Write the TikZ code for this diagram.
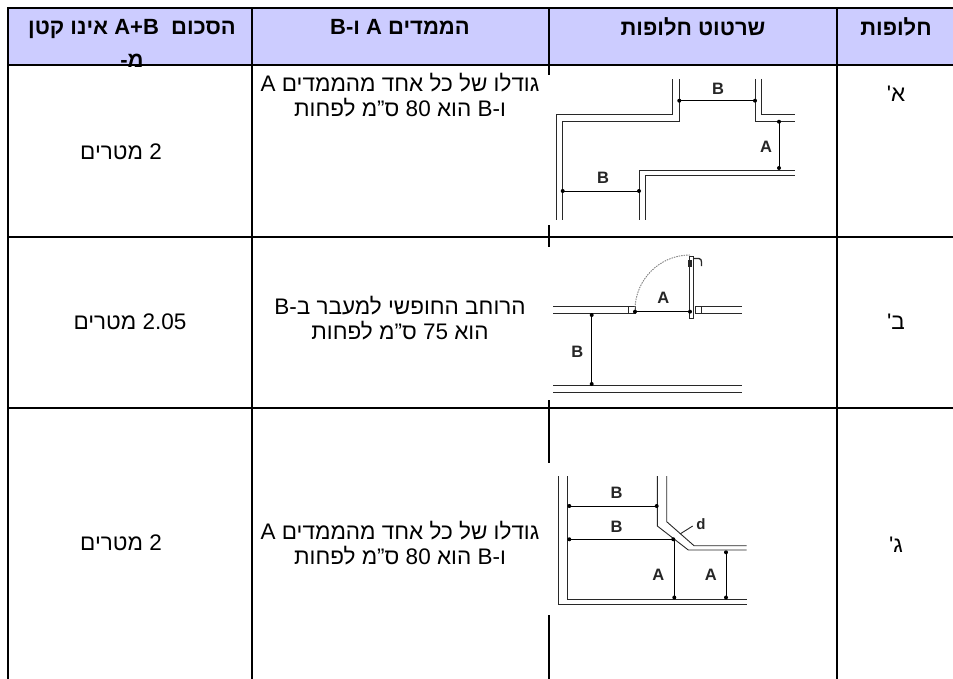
\documentclass[tikz,border=0pt]{standalone}
\usepackage{fontspec}
\setmainfont{Liberation Sans}
\newfontfamily\heb[Script=Hebrew]{Liberation Sans}
\TeXXeTstate=1
\definecolor{headfill}{RGB}{204,204,255}
\definecolor{wallgray}{RGB}{40,40,40}

\begin{document}
\begin{tikzpicture}[x=1pt, y=-1pt,
    gridline/.style={line width=2.6pt},
    wall/.style={line width=0.9pt, wallgray},
    dim/.style={line width=0.9pt},
    dimend/.style={circle, fill, inner sep=0pt, minimum size=4pt},
    lbl/.style={font=\bfseries\fontsize{16.5}{16.5}\selectfont, inner sep=0pt, text=black!85},
    cell/.style={font=\heb\fontsize{22.5}{25}\selectfont, align=center, inner sep=0pt},
    head/.style={font=\heb\bfseries\fontsize{22}{33}\selectfont, align=center, inner sep=0pt}]
\useasboundingbox (0,0) rectangle (953,679);
\fill[white] (0,0) rectangle (953,679);
\fill[headfill] (8,8) rectangle (953,65);

% table grid
\draw[gridline] (8,679) -- (8,8) -- (953,8);
\foreach \y in {65,237,408}
    \draw[gridline] (8,\y) -- (953,\y);
\foreach \x in {252,549,837}
    \draw[gridline] (\x,8) -- (\x,679);

% header
\node[head] (hsum) at (132,43) {\beginR הסכום \ \beginL A+B\endL{} אינו קטן\endR\\\beginR מ-\endR};
\node[head] (hdim) at (400,27) {\beginR הממדים A ו-B\endR};
\node[head] (hsketch) at (693,27) {\beginR שרטוט חלופות\endR};
\node[head] (halt) at (896,27) {\beginR חלופות\endR};

% option labels
\node[cell] (alta) at (896,94) {\beginR א'\endR};
\node[cell] (altb) at (896,322) {\beginR ב'\endR};
\node[cell] (altc) at (896,545) {\beginR ג'\endR};

% dimension texts
\node[cell] (dima) at (400,95) {\beginR גודלו של כל אחד מהממדים A\endR\\\beginR ו-B הוא 80 ס”מ לפחות\endR};
\node[cell] (dimb) at (400,318) {\beginR הרוחב החופשי למעבר ב-B\endR\\\beginR הוא 75 ס”מ לפחות\endR};
\node[cell] (dimc) at (400,543) {\beginR גודלו של כל אחד מהממדים A\endR\\\beginR ו-B הוא 80 ס”מ לפחות\endR};

% sums
\node[cell] (suma) at (121,152) {\beginR 2 מטרים\endR};
\node[cell] (sumb) at (130,322) {\beginR 2.05 מטרים\endR};
\node[cell] (sumc) at (121,543) {\beginR 2 מטרים\endR};

% sketch a
\fill[white] (545,75) rectangle (800,225);
\draw[wall] (556.7,220) -- (556.7,114) -- (672.7,114) -- (672.7,79);
\draw[wall] (562.7,220) -- (562.7,121) -- (679.3,121) -- (679.3,79);
\draw[wall] (755,79) -- (755,121.7) -- (795,121.7);
\draw[wall] (761.7,79) -- (761.7,114) -- (795,114);
\draw[wall] (639,220) -- (639,170) -- (795,170);
\draw[wall] (645.7,220) -- (645.7,175.5) -- (795,175.5);
\coordinate (ab1) at (679.3,100.7);
\coordinate (ab2) at (755,100.7);
\coordinate (aa1) at (779,121.7);
\coordinate (aa2) at (779,168);
\coordinate (ac1) at (562.7,191);
\coordinate (ac2) at (639,191);
\draw[dim] (ab1) -- (ab2) (aa1) -- (aa2) (ac1) -- (ac2);
\foreach \p in {ab1,ab2,aa1,aa2,ac1,ac2}
    \node[dimend] at (\p) {};
\node[lbl] (aB1) at (718,89) {B};
\node[lbl] (aA) at (766,147) {A};
\node[lbl] (aB2) at (603,178) {B};

% sketch b
\fill[white] (545,247) rectangle (745,400);
\draw[wall] (553.3,306.7) -- (628.3,306.7) (553.3,313.3) -- (628.3,313.3);
\draw[wall] (628.3,306.7) rectangle (635,313.3);
\draw[wall] (695,306.7) rectangle (701.7,313.3);
\draw[wall] (701.7,306.7) -- (741.7,306.7) (701.7,313.3) -- (741.7,313.3);
\draw[wall] (689.3,256) rectangle (693.7,318);
\fill[wallgray] (688.3,259.5) rectangle (692.3,266.5);
\draw[wall, line width=1.3pt] (694,258.5) -- (699,258.5) to[out=0,in=90] (701.5,262) -- (701.5,266);
\draw[wall, gray, dash pattern=on 1.5pt off 1pt] (635,310) arc[start angle=180, end angle=270, radius=55];
\draw[wall] (553.3,385) -- (741.7,385) (553.3,392.7) -- (741.7,392.7);
\coordinate (bA1) at (635,311.7);
\coordinate (bA2) at (690,311.7);
\coordinate (bB1) at (591.7,315);
\coordinate (bB2) at (591.7,384);
\draw[dim] (bA1) -- (bA2) (bB1) -- (bB2);
\foreach \p in {bA1,bA2,bB1,bB2}
    \node[dimend] at (\p) {};
\node[lbl] (bA) at (663.3,298.3) {A};
\node[lbl] (bB) at (577.3,351.7) {B};

% sketch c
\fill[white] (545,463) rectangle (760,615);
\draw[wall] (558.3,476) -- (558.3,604) -- (746.7,604);
\draw[wall] (567.3,476) -- (567.3,599.3) -- (746.7,599.3);
\draw[wall] (657.3,476) -- (657.3,526) -- (688.3,550) -- (746.7,550);
\draw[wall] (666.7,476) -- (666.7,521.7) -- (694,545.7) -- (746.7,545.7);
\draw[wall] (680,534) -- (692.7,526);
\node[lbl, font=\bfseries\fontsize{15}{15}\selectfont] (cd) at (701,524) {d};
\coordinate (cB1) at (569.3,506);
\coordinate (cB2) at (656.7,506);
\coordinate (cB3) at (569.3,539.3);
\coordinate (cB4) at (673.3,539.3);
\coordinate (cA1) at (674.3,539.3);
\coordinate (cA2) at (674.3,597.5);
\coordinate (cA3) at (726,552.3);
\coordinate (cA4) at (726,597.5);
\draw[dim] (cB1) -- (cB2) (cB3) -- (cB4) (cA1) -- (cA2) (cA3) -- (cA4);
\foreach \p in {cB1,cB2,cB3,cB4,cA2,cA3,cA4}
    \node[dimend] at (\p) {};
\node[lbl] (cB) at (616.7,493.3) {B};
\node[lbl] (cBb) at (616.7,526.7) {B};
\node[lbl] (cA) at (658.3,575) {A};
\node[lbl] (cAb) at (710.7,575) {A};
\end{tikzpicture}
\end{document}
